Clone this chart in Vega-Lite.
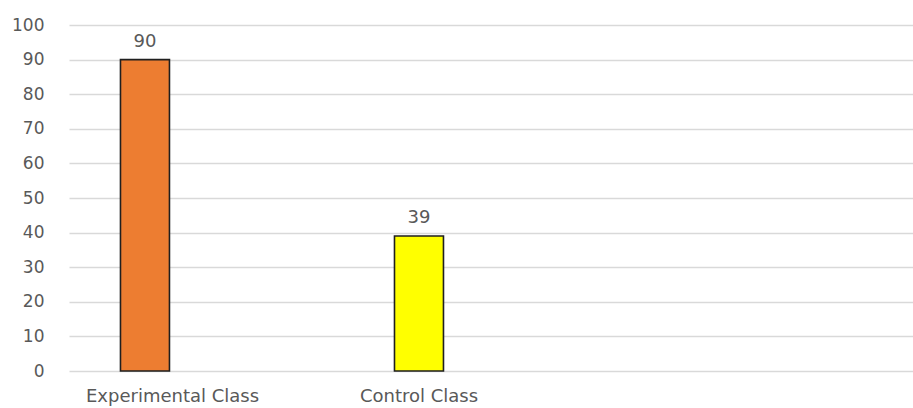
{
  "$schema": "https://vega.github.io/schema/vega-lite/v6.json",
  "width": 844,
  "height": 346,
  "autosize": "none",
  "padding": {"left": 69, "top": 25, "right": 0, "bottom": 37},
  "background": "white",
  "config": {"view": {"stroke": null}, "font": "DejaVu Sans"},
  "data": {
    "values": [
      {"group": "Experimental Class", "score": 90},
      {"group": "Control Class", "score": 39}
    ]
  },
  "encoding": {
    "x": {
      "field": "group",
      "type": "nominal",
      "sort": null,
      "scale": {"paddingInner": 0.8212, "paddingOuter": 0.9507, "align": 0.0988},
      "axis": {
        "title": null,
        "labelAngle": 0,
        "labelAlign": "left",
        "labelOffset": -59,
        "labelPadding": 16,
        "labelFontSize": 18,
        "labelColor": "#595959",
        "labelLimit": 300,
        "domain": false,
        "ticks": false,
        "grid": false
      }
    },
    "y": {
      "field": "score",
      "type": "quantitative",
      "scale": {"domain": [0, 100], "nice": false},
      "axis": {
        "title": null,
        "values": [0, 10, 20, 30, 40, 50, 60, 70, 80, 90, 100],
        "labelFontSize": 17,
        "labelColor": "#595959",
        "labelPadding": 25,
        "domain": false,
        "ticks": false,
        "gridColor": "#D9D9D9",
        "gridWidth": 1.5
      }
    }
  },
  "layer": [
    {
      "mark": {"type": "bar", "stroke": "#1f1f1f", "strokeWidth": 1.6},
      "encoding": {
        "color": {
          "field": "group",
          "type": "nominal",
          "scale": {"domain": ["Experimental Class", "Control Class"], "range": ["#ED7D31", "#FFFF00"]},
          "legend": null
        }
      }
    },
    {
      "mark": {"type": "text", "dy": -13, "baseline": "alphabetic", "fontSize": 18, "color": "#595959"},
      "encoding": {"text": {"field": "score", "type": "quantitative"}}
    }
  ]
}
